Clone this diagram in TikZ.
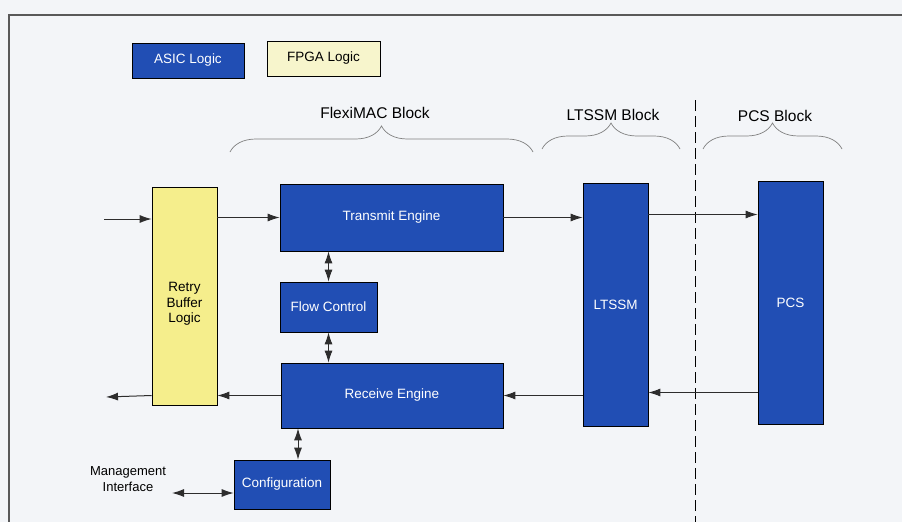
\documentclass[tikz,border=0pt]{standalone}
\usepackage{fontspec}
\setmainfont{Liberation Sans}
\usetikzlibrary{arrows.meta,decorations.pathreplacing}
\definecolor{asicblue}{RGB}{33,78,180}
\definecolor{fpgayellow}{RGB}{245,238,140}
\definecolor{keyyellow}{RGB}{247,245,204}
\definecolor{pagebg}{RGB}{243,245,248}
\definecolor{linegray}{RGB}{45,45,45}
\tikzset{
  asic/.style={draw=black, line width=0.6pt, fill=asicblue, text=white, inner sep=0pt,
    font=\fontsize{13.5}{15.5}\selectfont, align=center},
  fpga/.style={draw=black, line width=0.6pt, fill=fpgayellow, inner sep=0pt,
    font=\fontsize{13.5}{15.5}\selectfont, align=center},
  blocklabel/.style={font=\fontsize{15.5}{18}\selectfont},
  conn/.style={draw=linegray, line width=1pt, -{Latex[length=12pt,width=8pt]}},
  biconn/.style={draw=linegray, line width=1pt, {Latex[length=12pt,width=8pt]}-{Latex[length=12pt,width=8pt]}},
  brace/.style={draw=gray, line width=0.7pt, decorate, decoration={brace, amplitude=26pt}}
}
\begin{document}
\begin{tikzpicture}[x=1pt, y=-1pt]
\useasboundingbox (0,0) rectangle (902,522);
\fill[pagebg] (0,0) rectangle (902,522);
\draw[line width=1.2pt, draw=gray!70!black] (902,15) -- (9,15) -- (9,522);
% key
\node[asic, minimum width=112pt, minimum height=35pt] (asickey) at (188,60.5) {ASIC Logic};
\node[fpga, fill=keyyellow, minimum width=113pt, minimum height=35pt] (fpgakey) at (323.5,58.5) {FPGA Logic};
% block labels
\node[blocklabel] (flexilbl) at (375,113) {FlexiMAC Block};
\node[blocklabel] (ltssmlbl) at (613,115) {LTSSM Block};
\node[blocklabel] (pcslbl) at (775,116) {PCS Block};
\draw[brace] (230,152) -- (533,152);
\draw[brace] (542,149) -- (680,149);
\draw[brace] (703,149) -- (842,149);
\draw[line width=1pt, dash pattern=on 11pt off 5pt] (695,100) -- (695,522);
% blocks
\node[fpga, minimum width=65pt, minimum height=218pt] (retry) at (184.5,296) {\\[6pt]Retry\\Buffer\\Logic\\[-16pt]};
\node[asic, minimum width=223pt, minimum height=67pt] (tx) at (391.5,217.5) {Transmit Engine};
\node[asic, minimum width=97pt, minimum height=50pt] (flow) at (328.5,307) {Flow Control};
\node[asic, minimum width=222pt, minimum height=65pt] (rx) at (392,395.5) {Receive Engine};
\node[asic, minimum width=65pt, minimum height=243pt] (ltssm) at (615.5,304.5) {LTSSM};
\node[asic, minimum width=65pt, minimum height=243pt] (pcs) at (790.5,302.5) {PCS};
\node[asic, minimum width=96pt, minimum height=49pt] (cfg) at (282,484.5) {Configuration};
\node[font=\fontsize{13}{15.5}\selectfont, align=center] (mgmt) at (128,479) {Management\\Interface};
\coordinate (inA) at (104,219);
\coordinate (outA) at (106,397);
\coordinate (mgmtA) at (172,493);
% connectors
\draw[conn] (inA) -- (inA -| retry.west);
\draw[conn] (retry.east |- tx.west) -- (tx.west);
\draw[conn] (tx.east) -- (tx.east -| ltssm.west);
\draw[conn] ([yshift=3pt]ltssm.east |- tx.east) -- ([yshift=3pt]pcs.west |- tx.east);
\draw[conn] ([yshift=3pt]pcs.west |- rx.east) -- ([yshift=3pt]ltssm.east |- rx.east);
\draw[conn] (ltssm.west |- rx.east) -- (rx.east);
\draw[conn] (rx.west) -- (rx.west -| retry.east);
\draw[conn] (retry.west |- rx.west) -- (outA);
\draw[biconn] (tx.south -| flow.north) -- (flow.north);
\draw[biconn] (flow.south) -- (flow.south |- rx.north);
\draw[biconn] ([xshift=16pt]cfg.north) -- ([xshift=16pt]cfg.north |- rx.south);
\draw[biconn] (mgmtA) -- (mgmtA -| cfg.west);
\end{tikzpicture}
\end{document}
